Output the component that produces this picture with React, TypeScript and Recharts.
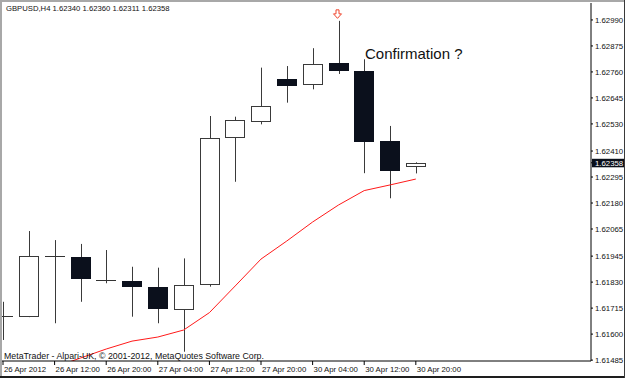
import React from 'react';
import { ComposedChart, Bar, Line, XAxis, YAxis, ReferenceDot } from 'recharts';

const barIndex = [0, 1, 2, 3, 4, 5, 6, 7, 8, 9, 10, 11, 12, 13, 14, 15, 16];
const opens = [1.61677, 1.61677, 1.61945, 1.6194, 1.61839, 1.61836, 1.61808, 1.61706, 1.61817, 1.62466, 1.62537, 1.62728, 1.62702, 1.62798, 1.62764, 1.62455, 1.6234];
const highs = [1.61743, 1.62056, 1.62016, 1.61999, 1.61972, 1.61898, 1.61894, 1.61935, 1.62565, 1.62562, 1.62779, 1.62786, 1.62865, 1.62986, 1.62816, 1.62521, 1.6236];
const lows = [1.61574, 1.61675, 1.61648, 1.61743, 1.61825, 1.61677, 1.61648, 1.61522, 1.6181, 1.62274, 1.62528, 1.62624, 1.62683, 1.62751, 1.62312, 1.62201, 1.62311];
const closes = [1.61679, 1.61945, 1.61946, 1.61842, 1.61839, 1.6181, 1.6171, 1.61816, 1.62466, 1.62547, 1.62609, 1.62699, 1.62794, 1.62766, 1.62451, 1.6232, 1.62358];
const maValues = [null, null, 1.61454, 1.61494, 1.61534, 1.61569, 1.61587, 1.61618, 1.61695, 1.61813, 1.61932, 1.62012, 1.62096, 1.62171, 1.62235, 1.6226, 1.62286];

const xTickIndex = [0, 2, 4, 6, 8, 10, 12, 14, 16];
const xTickLabels = ['26 Apr 2012', '26 Apr 12:00', '26 Apr 20:00', '27 Apr 04:00', '27 Apr 12:00', '27 Apr 20:00', '30 Apr 04:00', '30 Apr 12:00', '30 Apr 20:00'];
const yTickValues = [1.6299, 1.62875, 1.6276, 1.62645, 1.6253, 1.6241, 1.62295, 1.6218, 1.62065, 1.61945, 1.6183, 1.61715, 1.616, 1.61485];

const symbolTitle = 'GBPUSD,H4';
const signalIndex = 13;
const annotationText = 'Confirmation ?';
const copyrightText = 'MetaTrader - Alpari-UK, \u00a9 2001-2012, MetaQuotes Software Corp.';

const lastIdx = barIndex.length - 1;
const lastClose = closes[lastIdx];
const headerText = `${symbolTitle}  ${opens[lastIdx].toFixed(5)} ${highs[lastIdx].toFixed(5)} ${lows[lastIdx].toFixed(5)} ${closes[lastIdx].toFixed(5)}`;

const data = barIndex.map((i, k) => ({
  i,
  open: opens[k],
  high: highs[k],
  low: lows[k],
  close: closes[k],
  ma: maValues[k],
  range: [lows[k], highs[k]],
}));

const FONT = "'Liberation Sans', Arial, sans-serif";
const DARK = '#0b101c';

const Candle = (props: any) => {
  const { x, y, width, height, payload } = props;
  if (x == null || y == null || !payload) return null;
  const cx = Math.round(x + width / 2);
  const top = Math.min(y, y + height);
  const h = Math.abs(height);
  const { open, close, high, low } = payload;
  const pxPer = h / (high - low);
  const yOf = (v: number) => top + (high - v) * pxPer;
  const yO = yOf(open);
  const yC = yOf(close);
  const bull = close >= open;
  const bt = Math.round(Math.min(yO, yC));
  const bb = Math.round(Math.max(yO, yC));
  const wx = cx + 0.5;
  return (
    <g>
      <line x1={wx} x2={wx} y1={top} y2={top + h} stroke="#3a3a3a" strokeWidth={1} />
      {bb - bt < 2 ? (
        <line x1={cx - 10} x2={cx + 10} y1={bt + 0.5} y2={bt + 0.5} stroke="#333" strokeWidth={1} />
      ) : (
        <rect
          x={cx - 9.5}
          y={bt + 0.5}
          width={19}
          height={bb - bt - 1}
          fill={bull ? '#ffffff' : DARK}
          stroke={bull ? '#3a3a3a' : DARK}
          strokeWidth={1}
        />
      )}
    </g>
  );
};

const YTick = (props: any) => {
  const { x, y, payload } = props;
  const v = payload.value as number;
  if (Math.abs(v - lastClose) < 1e-9) {
    return (
      <g>
        <rect x={x - 3} y={y - 4} width={40} height={8.5} fill="#0a0f1a" />
        <text x={x} y={y} dy="0.35em" fontSize={7.8} fontFamily={FONT} fill="#ffffff">
          {v.toFixed(5)}
        </text>
      </g>
    );
  }
  return (
    <text x={x} y={y} dy="0.35em" fontSize={7.8} fontFamily={FONT} fill="#111">
      {v.toFixed(5)}
    </text>
  );
};

const XTick = (props: any) => {
  const { x, y, payload } = props;
  const k = xTickIndex.indexOf(payload.value);
  return (
    <text x={x + 1} y={y} dy="0.35em" fontSize={7.8} fontFamily={FONT} fill="#111" textAnchor="start">
      {k >= 0 ? xTickLabels[k] : ''}
    </text>
  );
};

const SignalArrow = (props: any) => {
  const { cx, cy } = props;
  if (cx == null || cy == null) return null;
  const x = Math.round(cx) - 0.5;
  const pts = [
    [x - 1.5, cy - 11],
    [x + 1.5, cy - 11],
    [x + 1.5, cy - 7],
    [x + 4, cy - 7],
    [x, cy - 2.5],
    [x - 4, cy - 7],
    [x - 1.5, cy - 7],
  ]
    .map((p) => p.join(','))
    .join(' ');
  return <polygon points={pts} fill="#ffffff" stroke="#f0442c" strokeWidth={1} />;
};

export default function App() {
  return (
    <div style={{ position: 'absolute', left: 0, top: 0, width: 625, height: 378, background: '#ffffff' }}>
      <ComposedChart
        width={625}
        height={378}
        data={data}
        margin={{ top: 3, right: 0, bottom: 0, left: 2 }}
        style={{ background: '#ffffff' }}
      >
        <XAxis
          dataKey="i"
          type="number"
          domain={[-0.039, 22.79]}
          allowDataOverflow
          ticks={xTickIndex}
          interval={0}
          tick={<XTick />}
          tickSize={4}
          tickMargin={4}
          height={17}
          axisLine={{ stroke: '#000' }}
          tickLine={{ stroke: '#000' }}
        />
        <YAxis
          orientation="right"
          type="number"
          domain={[1.61481, 1.63065]}
          allowDataOverflow
          ticks={[...yTickValues, lastClose]}
          interval={0}
          tick={<YTick />}
          tickSize={2}
          tickMargin={2}
          width={34}
          axisLine={{ stroke: '#000' }}
          tickLine={{ stroke: '#000' }}
        />
        <Line
          dataKey="ma"
          type="linear"
          stroke="#ff1a1a"
          strokeWidth={1}
          dot={false}
          activeDot={false}
          isAnimationActive={false}
        />
        <Bar dataKey="range" barSize={20} shape={<Candle />} isAnimationActive={false} />
        <ReferenceDot
          x={signalIndex}
          y={highs[signalIndex]}
          r={0}
          shape={<SignalArrow />}
          ifOverflow="visible"
        />
      </ComposedChart>
      <svg
        width={625}
        height={378}
        style={{ position: 'absolute', left: 0, top: 0, pointerEvents: 'none' }}
      >
        <text x={6} y={8} dy="0.35em" fontSize={7.7} fontFamily={FONT} fill="#111">
          {headerText}
        </text>
        <text x={365} y={54} dy="0.35em" fontSize={15} fontFamily={FONT} fill="#111">
          {annotationText}
        </text>
        <text x={4} y={356} dy="0.35em" fontSize={8.8} fontFamily={FONT} fill="#111">
          {copyrightText}
        </text>
        <rect x={0} y={0} width={625} height={2} fill="#a8a8a8" />
        <rect x={0} y={0} width={2} height={378} fill="#a8a8a8" />
        <rect x={0} y={376} width={625} height={2} fill="#1e1e1e" />
        <rect x={624} y={0} width={1} height={378} fill="#3a3a3a" />
      </svg>
    </div>
  );
}
